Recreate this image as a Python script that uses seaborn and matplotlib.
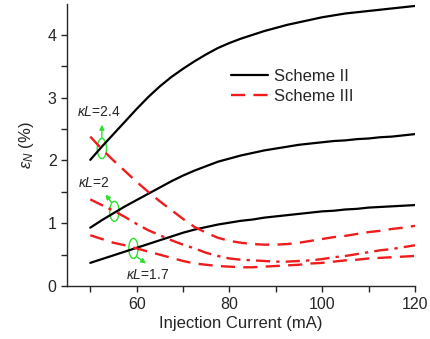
import numpy as np
import pandas as pd
import matplotlib
matplotlib.use("Agg")
import matplotlib.pyplot as plt
import seaborn as sns
from matplotlib.patches import Ellipse
from matplotlib.ticker import MultipleLocator

current = [50, 52.5, 55, 57.5, 60, 62.5, 65, 67.5, 70, 72.5, 75, 77.5, 80, 82.5, 85,
           87.5, 90, 92.5, 95, 97.5, 100, 102.5, 105, 107.5, 110, 112.5, 115, 117.5, 120]

# Scheme II (solid black)
s2_k24 = [2.01, 2.22, 2.42, 2.62, 2.82, 3.01, 3.18, 3.33, 3.46, 3.58, 3.69, 3.79, 3.87, 3.94, 4.00,
          4.06, 4.11, 4.16, 4.20, 4.24, 4.28, 4.31, 4.34, 4.36, 4.38, 4.40, 4.42, 4.44, 4.46]
s2_k20 = [0.93, 1.05, 1.16, 1.27, 1.37, 1.47, 1.57, 1.67, 1.76, 1.84, 1.91, 1.98, 2.03, 2.08, 2.12,
          2.16, 2.19, 2.22, 2.25, 2.27, 2.29, 2.31, 2.32, 2.34, 2.35, 2.37, 2.38, 2.40, 2.42]
s2_k17 = [0.37, 0.43, 0.49, 0.55, 0.61, 0.67, 0.73, 0.79, 0.85, 0.90, 0.94, 0.98, 1.01, 1.04, 1.06,
          1.09, 1.11, 1.13, 1.15, 1.17, 1.19, 1.20, 1.22, 1.23, 1.25, 1.26, 1.27, 1.28, 1.29]

# Scheme III (red dashed / dash-dot)
s3_k24 = [2.38, 2.18, 2.00, 1.83, 1.66, 1.50, 1.35, 1.21, 1.07, 0.94, 0.85, 0.77, 0.72, 0.69, 0.67,
          0.66, 0.66, 0.67, 0.69, 0.72, 0.75, 0.78, 0.80, 0.83, 0.86, 0.88, 0.91, 0.93, 0.96]
s3_k20 = [1.38, 1.29, 1.20, 1.10, 0.99, 0.89, 0.81, 0.73, 0.66, 0.60, 0.53, 0.48, 0.44, 0.42, 0.41,
          0.40, 0.39, 0.39, 0.40, 0.41, 0.43, 0.46, 0.48, 0.51, 0.54, 0.57, 0.59, 0.62, 0.65]
s3_k17 = [0.81, 0.75, 0.69, 0.65, 0.60, 0.55, 0.50, 0.45, 0.40, 0.36, 0.34, 0.32, 0.31, 0.30, 0.30,
          0.31, 0.32, 0.33, 0.34, 0.36, 0.37, 0.39, 0.41, 0.42, 0.44, 0.45, 0.46, 0.47, 0.48]

legend_labels = ["Scheme II", "Scheme III"]
kl_labels = [r"$\kappa L$=2.4", r"$\kappa L$=2", r"$\kappa L$=1.7"]

sns.set_style("ticks")
plt.rcParams['font.family'] = ['Liberation Sans', 'DejaVu Sans']
plt.rcParams['mathtext.fontset'] = 'custom'
plt.rcParams['mathtext.rm'] = 'Liberation Sans'
plt.rcParams['mathtext.it'] = 'Liberation Sans:italic'

fig = plt.figure(figsize=(4.30, 3.39), dpi=100)
ax = fig.add_axes([0.156, 0.156, 0.809, 0.832])

lwb = 1.6
lwr = 1.7
red = "#ee1c1c"
dash = (6, 3.5)
dashdot = (6, 2.6, 1.4, 2.6)

sns.lineplot(x=current, y=s2_k24, ax=ax, color="black", lw=lwb, label=legend_labels[0])
sns.lineplot(x=current, y=s2_k20, ax=ax, color="black", lw=lwb)
sns.lineplot(x=current, y=s2_k17, ax=ax, color="black", lw=lwb)
sns.lineplot(x=current, y=s3_k24, ax=ax, color=red, lw=lwr, label=legend_labels[1])
ax.lines[-1].set_dashes(dash)
sns.lineplot(x=current, y=s3_k20, ax=ax, color=red, lw=lwr)
ax.lines[-1].set_dashes(dashdot)
sns.lineplot(x=current, y=s3_k17, ax=ax, color=red, lw=lwr)
ax.lines[-1].set_dashes(dash)

ax.set_xlim(45, 120)
ax.set_ylim(0, 4.49)
ax.xaxis.set_major_locator(MultipleLocator(20))
ax.xaxis.set_minor_locator(MultipleLocator(10))
ax.yaxis.set_major_locator(MultipleLocator(1))
ax.yaxis.set_minor_locator(MultipleLocator(0.5))
ax.tick_params(which='major', length=4.5, width=1, labelsize=11.5, direction='out', pad=3)
ax.tick_params(which='minor', length=4, width=1, direction='out')
for s in ["left", "bottom"]:
    ax.spines[s].set_linewidth(1.0)
sns.despine(ax=ax)

ax.set_xlabel("Injection Current (mA)", fontsize=12)
ax.set_ylabel(r"$\varepsilon_N$ (%)", fontsize=12)
ax.xaxis.set_label_coords(0.5, -0.105)
ax.yaxis.set_label_coords(-0.088, 0.5)

leg = ax.legend(loc="center left", bbox_to_anchor=(0.472, 0.707), frameon=False,
                fontsize=12, handlelength=2.2, handletextpad=0.35, labelspacing=0.3,
                borderpad=0, borderaxespad=0)

green = "#2ee02e"
for (cx, cy) in [(52.5, 2.19), (55.2, 1.19), (59.3, 0.60)]:
    ax.add_patch(Ellipse((cx, cy), 2.0, 0.32, fill=False, edgecolor=green, lw=1.0))
arrow_kw = dict(arrowstyle="-|>", color=green, lw=1.0, mutation_scale=7, shrinkA=0, shrinkB=0)
ax.annotate("", xy=(52.5, 2.57), xytext=(52.5, 2.35), arrowprops=arrow_kw)
ax.annotate("", xy=(53.3, 1.46), xytext=(54.6, 1.33), arrowprops=arrow_kw)
ax.annotate("", xy=(62.0, 0.36), xytext=(60.0, 0.47), arrowprops=arrow_kw)

ax.text(47.2, 2.77, kl_labels[0], fontsize=10, va="center", ha="left")
ax.text(47.4, 1.64, kl_labels[1], fontsize=10, va="center", ha="left")
ax.text(57.7, 0.18, kl_labels[2], fontsize=10, va="center", ha="left")

fig.savefig("out.png", dpi=100)
